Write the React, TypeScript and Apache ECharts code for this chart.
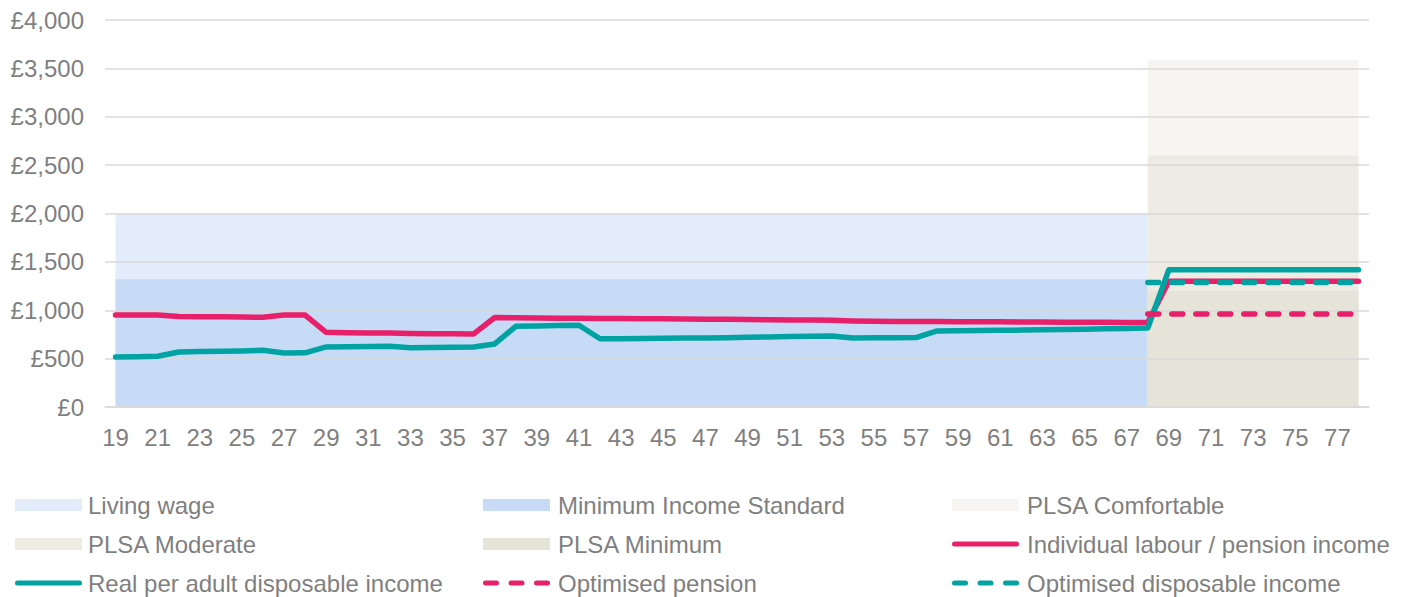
import React, { useEffect, useRef } from "react";
import * as echarts from "echarts";

// ---- Data ----
const AGES = [
  "19", "20", "21", "22", "23", "24", "25", "26", "27", "28",
  "29", "30", "31", "32", "33", "34", "35", "36", "37", "38",
  "39", "40", "41", "42", "43", "44", "45", "46", "47", "48",
  "49", "50", "51", "52", "53", "54", "55", "56", "57", "58",
  "59", "60", "61", "62", "63", "64", "65", "66", "67", "68",
  "69", "70", "71", "72", "73", "74", "75", "76", "77", "78",
];

const INDIVIDUAL_INCOME = [
  952, 950, 950, 935, 932, 932, 930, 928, 950, 950,
  772, 768, 766, 765, 760, 757, 756, 755, 925, 922,
  920, 918, 917, 916, 915, 913, 912, 910, 908, 906,
  904, 902, 900, 898, 896, 890, 886, 885, 884, 883,
  882, 881, 880, 879, 878, 877, 876, 875, 874, 873,
  1300, 1300, 1300, 1300, 1300, 1300, 1300, 1300, 1300, 1300,
];

const DISPOSABLE_INCOME = [
  517, 520, 524, 569, 573, 577, 580, 586, 559, 560,
  621, 623, 626, 628, 612, 614, 617, 621, 652, 834,
  838, 842, 845, 705, 706, 708, 710, 712, 714, 716,
  720, 724, 728, 732, 735, 714, 715, 716, 718, 786,
  788, 790, 792, 795, 798, 801, 804, 808, 812, 816,
  1419, 1419, 1419, 1419, 1419, 1419, 1419, 1419, 1419, 1419,
];

const OPT_AGES = ["68", "69", "70", "71", "72", "73", "74", "75", "76", "77", "78"];
const OPT_PENSION = [960, 960, 960, 960, 960, 960, 960, 960, 960, 960, 960];
const OPT_DISPOSABLE = [1288, 1288, 1288, 1288, 1288, 1288, 1288, 1288, 1288, 1288, 1288];

const BAND_NAMES = [
  "Living wage",
  "Minimum Income Standard",
  "PLSA Comfortable",
  "PLSA Moderate",
  "PLSA Minimum",
];
const BAND_FROM = ["19", "19", "68", "68", "68"];
const BAND_TO = ["68", "68", "78", "78", "78"];
const BAND_TOP = [2000, 1320, 3590, 2600, 1200];

// legend order (row-major, 3 columns)
const LEGEND_ORDER = [
  "Living wage",
  "Minimum Income Standard",
  "PLSA Comfortable",
  "PLSA Moderate",
  "PLSA Minimum",
  "Individual labour / pension income",
  "Real per adult disposable income",
  "Optimised pension",
  "Optimised disposable income",
];

const Y_MIN = 0;
const Y_MAX = 4000;
const Y_STEP = 500;

// ---- Styles ----
const BAND_COLORS = ["#E2ECFB", "#C8DBF6", "#F6F5F1", "#EEEBE4", "#E6E3D9"];
const RED = "#E8206A";
const TEAL = "#00A3A1";
const TEXT = "#7F7F7F";
const GRID = "#D9D9D9";
const FONT = "'Liberation Sans', Arial, sans-serif";
const LEGEND_COL_X = [15, 483, 952];
const LEGEND_ROW_Y = [505, 544, 583];

const SOLID_ICON =
  "path://M2.5,0 L64.5,0 A2.5,2.5 0 0 1 64.5,5 L2.5,5 A2.5,2.5 0 0 1 2.5,0 Z";
function dashSeg(a: number, b: number) {
  return `M${a + 2.5},0 L${b - 2.5},0 A2.5,2.5 0 0 1 ${b - 2.5},5 L${a + 2.5},5 A2.5,2.5 0 0 1 ${a + 2.5},0 Z`;
}
const DASH_ICON = "path://" + dashSeg(0, 16) + " " + dashSeg(25.5, 41.5) + " " + dashSeg(51, 67);

function iconFor(name: string) {
  if (name.indexOf("Optimised") === 0) return DASH_ICON;
  if (BAND_NAMES.indexOf(name) >= 0) return "rect";
  return SOLID_ICON;
}

function fmtMoney(v: number) {
  return "£" + String(v).replace(/\B(?=(\d{3})+(?!\d))/g, ",");
}

export default function App() {
  const ref = useRef<HTMLDivElement>(null);

  useEffect(() => {
    if (!ref.current) return;
    const chart = echarts.init(ref.current, undefined, { renderer: "svg" });

    const bandSeries = BAND_NAMES.map((name, i) => ({
      name,
      type: "line",
      data: [],
      z: 1,
      symbol: "none",
      itemStyle: { color: BAND_COLORS[i] },
      lineStyle: { width: 0 },
      markArea: {
        silent: true,
        z: 1,
        itemStyle: { color: BAND_COLORS[i] },
        data: [
          [
            { xAxis: BAND_FROM[i], yAxis: Y_MIN },
            { xAxis: BAND_TO[i], yAxis: BAND_TOP[i] },
          ],
        ],
      },
    }));

    const lineCommon = {
      type: "line",
      symbol: "none",
      showSymbol: false,
      z: 3,
    };

    const legends = LEGEND_ORDER.map((name, k) => ({
      orient: "horizontal",
      left: LEGEND_COL_X[k % 3],
      top: LEGEND_ROW_Y[Math.floor(k / 3)] - 12,
      padding: 0,
      itemWidth: 67,
      itemHeight: 12,
      selectedMode: false,
      itemStyle: { borderWidth: 0 },
      textStyle: {
        color: TEXT,
        fontSize: 24,
        fontFamily: FONT,
        padding: [0, 0, 0, k % 3 === 0 ? 1 : 3],
      },
      data: [{ name, icon: iconFor(name) }],
    }));

    const option = {
      animation: false,
      backgroundColor: "#ffffff",
      textStyle: { fontFamily: FONT },
      grid: { left: 105, right: 38, top: 20, bottom: 190, containLabel: false },
      legend: legends,
      xAxis: {
        type: "category",
        data: AGES,
        boundaryGap: true,
        z: 1.5,
        axisLine: { show: true, lineStyle: { color: GRID, width: 1.5 } },
        axisTick: { show: false },
        splitLine: { show: false },
        axisLabel: {
          interval: 1,
          color: TEXT,
          fontSize: 24,
          fontFamily: FONT,
          margin: 18,
        },
      },
      yAxis: {
        type: "value",
        min: Y_MIN,
        max: Y_MAX,
        interval: Y_STEP,
        z: 1.5,
        axisLine: { show: false },
        axisTick: { show: false },
        splitLine: { show: true, lineStyle: { color: GRID, width: 1.5 } },
        axisLabel: {
          color: TEXT,
          fontSize: 24,
          fontFamily: FONT,
          margin: 21,
          formatter: (v: number) => fmtMoney(v),
        },
      },
      series: [
        ...bandSeries,
        {
          ...lineCommon,
          name: "Individual labour / pension income",
          data: INDIVIDUAL_INCOME,
          itemStyle: { color: RED },
          lineStyle: { color: RED, width: 5.5, cap: "round", join: "round" },
        },
        {
          ...lineCommon,
          name: "Real per adult disposable income",
          data: DISPOSABLE_INCOME,
          itemStyle: { color: TEAL },
          lineStyle: { color: TEAL, width: 5.5, cap: "round", join: "round" },
        },
        {
          ...lineCommon,
          name: "Optimised pension",
          data: OPT_AGES.map((a, i) => [a, OPT_PENSION[i]]),
          itemStyle: { color: RED },
          lineStyle: { color: RED, width: 5.5, type: [11, 13], cap: "round" },
        },
        {
          ...lineCommon,
          name: "Optimised disposable income",
          data: OPT_AGES.map((a, i) => [a, OPT_DISPOSABLE[i]]),
          itemStyle: { color: TEAL },
          lineStyle: { color: TEAL, width: 5.5, type: [11, 13], cap: "round" },
        },
      ],
    };

    chart.setOption(option as any);
    return () => chart.dispose();
  }, []);

  return (
    <div
      ref={ref}
      style={{ position: "absolute", left: 0, top: 0, width: 1407, height: 597 }}
    />
  );
}
